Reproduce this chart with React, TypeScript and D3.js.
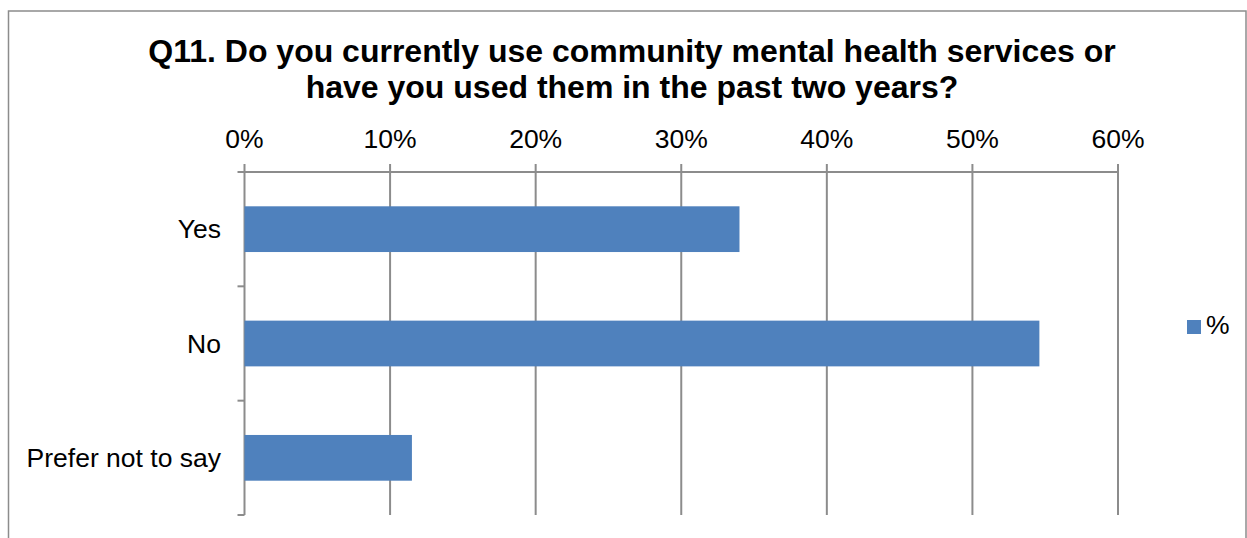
import React from "react";
import * as d3 from "d3";

const categories = ["Yes", "No", "Prefer not to say"];
const values = [34.0, 54.6, 11.5];
const xTicks = [0, 10, 20, 30, 40, 50, 60];
const titleLines = [
  "Q11. Do you currently use community mental health services or",
  "have you used them in the past two years?",
];
const seriesName = "%";

export default function App() {
  const W = 1247;
  const H = 538;
  const left = 244.5;
  const right = 1118;
  const top = 172;
  const bottom = 515;
  const x = d3.scaleLinear().domain([0, 60]).range([left, right]);
  const y = d3.scaleBand().domain(categories).range([top, bottom]).paddingInner(0.6).paddingOuter(0.3);
  const bandEdges = d3.range(categories.length + 1).map((i) => top + (i * (bottom - top)) / categories.length);
  const grid = "#8c8c8c";
  const font = "Liberation Sans, Arial, sans-serif";
  const lab = 26.5;
  return (
    <svg width={W} height={H} style={{ position: "absolute", left: 0, top: 0 }}>
      <rect x={0} y={0} width={W} height={H} fill="#fff" />
      <rect x={8.5} y={11} width={1237.5} height={560} fill="none" stroke="#8c8c8c" strokeWidth={1.5} />
      {titleLines.map((t, i) => (
        <text key={i} x={632} y={62 + i * 36} textAnchor="middle" fontFamily={font} fontWeight="bold" fontSize={32} fill="#000">
          {t}
        </text>
      ))}
      {xTicks.map((t) => (
        <g key={t}>
          <line x1={x(t)} x2={x(t)} y1={top - 8} y2={bottom} stroke={grid} strokeWidth={2} />
          <text x={x(t)} y={148} textAnchor="middle" fontFamily={font} fontSize={lab} fill="#000">
            {t + "%"}
          </text>
        </g>
      ))}
      <line x1={left} x2={right} y1={top} y2={top} stroke={grid} strokeWidth={2} />
      {bandEdges.map((e, i) => (
        <line key={i} x1={left - 7} x2={left} y1={e} y2={e} stroke={grid} strokeWidth={2} />
      ))}
      {categories.map((c, i) => (
        <g key={c}>
          <rect x={x(0)} y={y(c)!} width={x(values[i]) - x(0)} height={y.bandwidth()} fill="#4f81bd" />
          <text x={221} y={y(c)! + y.bandwidth() / 2 + 9} textAnchor="end" fontFamily={font} fontSize={lab} fill="#000">
            {c}
          </text>
        </g>
      ))}
      <rect x={1187} y={320} width={14} height={14} fill="#4f81bd" />
      <text x={1206} y={334} fontFamily={font} fontSize={lab} fill="#000">
        {seriesName}
      </text>
    </svg>
  );
}
